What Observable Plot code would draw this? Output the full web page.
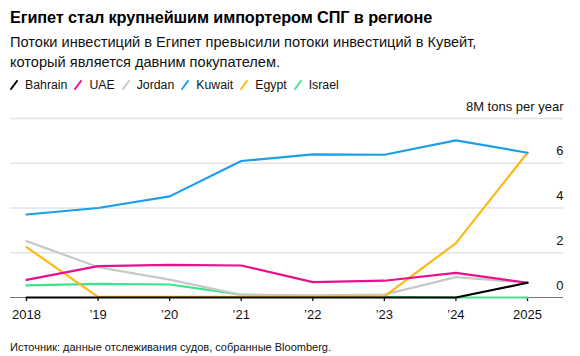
<!DOCTYPE html>
<html>
<head>
<meta charset="utf-8">
<script src="https://cdn.jsdelivr.net/npm/d3@7"></script>
<script src="https://cdn.jsdelivr.net/npm/@observablehq/plot@0.6"></script>
<style>
  html, body { margin: 0; padding: 0; background: #fff; }
  body { width: 580px; height: 356px; overflow: hidden; font-family: "Liberation Sans", Arial, sans-serif; color: #000; }
  #title { font-size: 16.3px; font-weight: bold; line-height: 20px; margin: 7px 0 0 10px; letter-spacing: -0.1px; white-space: nowrap; }
  #subtitle { font-size: 14.6px; line-height: 20px; margin: 5px 0 0 10px; color: #111; white-space: nowrap; }
  #legend { display: flex; font-size: 12.3px; line-height: 18px; margin: 4px 0 0 10px; height: 18px; color: #111; }
  #legend .item { display: flex; align-items: center; margin-right: 7px; }
  #legend svg { margin-right: 7px; }
  #chart { height: 240px; }
  #caption { font-size: 11px; line-height: 14px; margin: 6px 0 0 10px; color: #111; }
</style>
</head>
<body>
<div id="title"></div>
<div id="subtitle"></div>
<div id="legend"></div>
<div id="chart"></div>
<div id="caption"></div>
<script>
const titleText = "Египет стал крупнейшим импортером СПГ в регионе";
const subtitleLines = ["Потоки инвестиций в Египет превысили потоки инвестиций в Кувейт,", "который является давним покупателем."];
const captionText = "Источник: данные отслеживания судов, собранные Bloomberg.";

const years = [2018, 2019, 2020, 2021, 2022, 2023, 2024, 2025];
const yearLabels = ["2018", "’19", "’20", "’21", "’22", "’23", "’24", "2025"];
const yTicks = [0, 2, 4, 6, 8];
const yTickLabels = ["0", "2", "4", "6", "8M tons per year"];

const seriesNames = ["Bahrain", "UAE", "Jordan", "Kuwait", "Egypt", "Israel"];
const seriesColors = ["#000000", "#ec0e8c", "#c8c8c8", "#1a9fe8", "#fbb917", "#3ee38c"];

const bahrain = [0, 0, 0, 0, 0, 0, 0, 0.66];
const uae     = [0.79, 1.40, 1.46, 1.43, 0.69, 0.75, 1.10, 0.66];
const jordan  = [2.52, 1.36, 0.80, 0.12, 0.10, 0.13, 0.91, 0.66];
const kuwait  = [3.71, 4.00, 4.52, 6.10, 6.40, 6.38, 7.02, 6.47];
const egypt   = [2.25, 0.03, 0.03, 0.03, 0.03, 0.05, 2.43, 6.47];
const israel  = [0.54, 0.61, 0.58, 0.13, 0.05, 0.03, 0, 0];

const seriesValues = [bahrain, uae, jordan, kuwait, egypt, israel];
// drawing order (bottom to top)
const drawOrder = ["Israel", "Jordan", "Egypt", "UAE", "Kuwait", "Bahrain"];

document.getElementById("title").textContent = titleText;
const sub = document.getElementById("subtitle");
subtitleLines.forEach(l => { const d = document.createElement("div"); d.textContent = l; sub.appendChild(d); });
document.getElementById("caption").textContent = captionText;

const legend = document.getElementById("legend");
seriesNames.forEach((name, i) => {
  const item = document.createElement("div");
  item.className = "item";
  item.innerHTML = `<svg width="8" height="10"><line x1="1" y1="9" x2="7" y2="1" stroke="${seriesColors[i]}" stroke-width="2" stroke-linecap="round"/></svg><span>${name}</span>`;
  legend.appendChild(item);
});

const rows = [];
drawOrder.forEach(name => {
  const i = seriesNames.indexOf(name);
  years.forEach((yr, j) => rows.push({series: name, year: yr, value: seriesValues[i][j]}));
});

const yLabelRows = yTicks.map((t, i) => ({y: t, label: yTickLabels[i]}));

const chart = Plot.plot({
  width: 580,
  height: 240,
  marginTop: 24,
  marginBottom: 37,
  marginLeft: 10,
  marginRight: 17,
  style: {fontFamily: "Liberation Sans, Arial, sans-serif", color: "#111", background: "#fff"},
  x: {domain: [2018, 2025], insetLeft: 16, insetRight: 36, axis: null},
  y: {domain: [0, 8], axis: null},
  color: {domain: seriesNames, range: seriesColors},
  marks: [
    Plot.ruleY(yTicks.filter(t => t > 0), {stroke: "#e3e3e3", strokeWidth: 1.3}),
    Plot.ruleY([0], {stroke: "#777", strokeWidth: 1}),
    Plot.text(yLabelRows, {y: "y", text: "label", frameAnchor: "right", textAnchor: "end", dy: -12, fontSize: 13, fill: "#111"}),
    Plot.axisX({ticks: years, tickFormat: d => yearLabels[years.indexOf(d)], tickSize: 4, tickPadding: 8, fontSize: 13, stroke: "#111", strokeWidth: 1.3, fill: "#111", anchor: "bottom", label: null}),
    Plot.line(rows, {x: "year", y: "value", z: "series", stroke: "series", strokeWidth: 2.2, strokeLinejoin: "round"})
  ]
});
document.getElementById("chart").appendChild(chart);
</script>
</body>
</html>
